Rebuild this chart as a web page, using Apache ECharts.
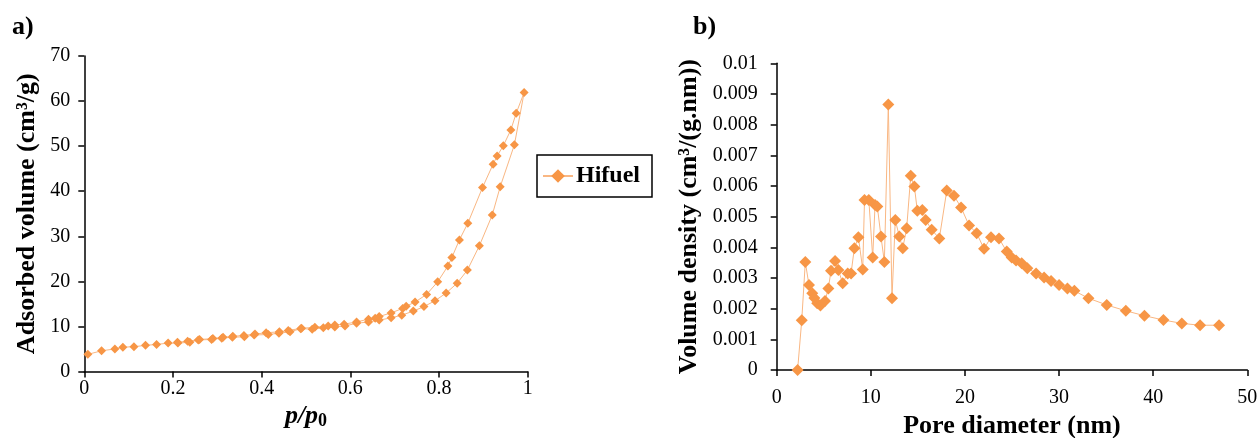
<!DOCTYPE html>
<html>
<head>
<meta charset="utf-8">
<script src="https://cdn.jsdelivr.net/npm/echarts@6/dist/echarts.min.js"></script>
<style>
  html, body { margin: 0; padding: 0; background: #fff; }
  #chart { width: 1259px; height: 438px; }
</style>
</head>
<body>
<div id="chart"></div>
<script>
// a) isotherm: adsorption branch (p/p0 rising) then desorption branch (falling)
const adsP = [0.008, 0.039, 0.069, 0.087, 0.112, 0.138, 0.163, 0.189, 0.211, 0.238, 0.257, 0.287, 0.310, 0.334, 0.361, 0.383, 0.415, 0.439, 0.464, 0.488, 0.514, 0.539, 0.565, 0.588, 0.614, 0.641, 0.665, 0.692, 0.716, 0.742, 0.766, 0.791, 0.816, 0.841, 0.864, 0.891, 0.920, 0.938, 0.970, 0.992]
const adsV = [3.8, 4.6, 5.0, 5.4, 5.5, 5.8, 6.0, 6.3, 6.3, 6.5, 7.0, 7.1, 7.4, 7.6, 7.7, 8.1, 8.2, 8.5, 8.8, 9.5, 9.4, 9.7, 9.9, 10.1, 10.7, 11.0, 11.4, 11.9, 12.5, 13.4, 14.4, 15.7, 17.4, 19.6, 22.5, 27.9, 34.7, 41.0, 50.3, 61.9]
const desP = [0.974, 0.962, 0.945, 0.931, 0.922, 0.898, 0.865, 0.846, 0.829, 0.820, 0.797, 0.772, 0.746, 0.726, 0.718, 0.692, 0.665, 0.656, 0.641, 0.614, 0.586, 0.565, 0.550, 0.520, 0.490, 0.460, 0.440, 0.410, 0.385, 0.360, 0.335, 0.313, 0.290, 0.260, 0.233, 0.210]
const desV = [57.3, 53.6, 50.1, 47.8, 46.0, 40.8, 32.9, 29.2, 25.3, 23.4, 19.9, 17.1, 15.4, 14.5, 14.0, 13.0, 12.2, 11.8, 11.6, 11.0, 10.5, 10.3, 10.1, 9.8, 9.6, 9.1, 8.8, 8.6, 8.3, 8.0, 7.8, 7.6, 7.3, 7.1, 6.7, 6.5]

// b) pore size distribution
const poreD = [2.22, 2.66, 3.04, 3.43, 3.78, 4.0, 4.3, 4.65, 5.13, 5.49, 5.77, 6.2, 6.55, 7.01, 7.54, 7.9, 8.25, 8.68, 9.14, 9.33, 9.79, 10.2, 10.45, 10.69, 11.08, 11.44, 11.86, 12.25, 12.6, 13.03, 13.39, 13.81, 14.24, 14.63, 14.94, 15.47, 15.83, 16.47, 17.28, 18.07, 18.84, 19.59, 20.44, 21.25, 22.03, 22.77, 23.62, 24.44, 24.97, 25.43, 26.03, 26.63, 27.56, 28.41, 29.15, 30.0, 30.89, 31.63, 33.12, 35.07, 37.09, 39.07, 41.09, 43.04, 44.98, 47.0]
const poreV = [0, 0.00162, 0.00352, 0.00277, 0.0025, 0.00235, 0.00218, 0.0021, 0.00225, 0.00266, 0.00324, 0.00355, 0.00326, 0.00283, 0.00315, 0.00315, 0.00397, 0.00433, 0.00328, 0.00554, 0.00554, 0.00367, 0.00538, 0.00533, 0.00435, 0.00352, 0.00866, 0.00234, 0.00489, 0.00435, 0.00397, 0.00462, 0.00633, 0.00598, 0.00519, 0.00522, 0.00489, 0.00457, 0.00429, 0.00585, 0.00568, 0.0053, 0.00471, 0.00446, 0.00395, 0.00433, 0.00429, 0.00386, 0.00367, 0.00357, 0.00348, 0.00332, 0.00315, 0.00302, 0.0029, 0.00277, 0.00266, 0.00258, 0.00234, 0.00212, 0.00193, 0.00177, 0.00163, 0.00152, 0.00146, 0.00146]

const serif = '"Liberation Serif", "Times New Roman", serif'
const markerColor = '#F79646'
const lineColor = '#F9B783'

const isoData = adsP.map((p, i) => [p, adsV[i]]).concat(desP.map((p, i) => [p, desV[i]]))
const poreData = poreD.map((d, i) => [d, poreV[i]])

const axisCommon = {
  axisLine: { lineStyle: { color: '#000', width: 1.5 } },
  axisTick: { show: true, inside: false, length: 6, lineStyle: { color: '#000', width: 1.5 } },
  splitLine: { show: false },
  axisLabel: { color: '#000', fontFamily: serif, fontSize: 20 },
  nameTextStyle: { color: '#000', fontFamily: serif, fontSize: 26, fontWeight: 'bold' }
}

const chart = echarts.init(document.getElementById('chart'), null, { renderer: 'canvas' })
chart.setOption({
  animation: false,
  backgroundColor: '#fff',
  graphic: [
    { type: 'text', left: 12, top: 14, style: { text: 'a)', font: 'bold 26px ' + serif, fill: '#000' } },
    { type: 'text', left: 693, top: 14, style: { text: 'b)', font: 'bold 26px ' + serif, fill: '#000' } }
  ],
  legend: {
    data: ['Hifuel'],
    left: 537,
    top: 155,
    orient: 'vertical',
    padding: [9, 12, 9, 5],
    itemWidth: 30,
    itemHeight: 17,
    itemGap: 0,
    borderColor: '#000',
    borderWidth: 1.5,
    textStyle: { color: '#000', fontFamily: serif, fontSize: 24, fontWeight: 'bold', padding: [0, 0, 0, -2] }
  },
  grid: [
    { left: 84.3, top: 56, width: 443.4, height: 315.5, outerBoundsMode: 'none' },
    { left: 776.7, top: 63.3, width: 470.6, height: 306.7, outerBoundsMode: 'none' }
  ],
  xAxis: [
    {
      ...axisCommon,
      gridIndex: 0, type: 'value', min: 0, max: 1, interval: 0.2,
      axisLabel: { ...axisCommon.axisLabel, margin: 7 },
      name: '{t|p/p}{s|0}',
      nameLocation: 'middle', nameGap: 24,
      nameTextStyle: {
        rich: {
          t: { fontFamily: serif, fontSize: 26, fontWeight: 'bold', fontStyle: 'italic', color: '#000' },
          s: { fontFamily: serif, fontSize: 18, fontWeight: 'bold', color: '#000', padding: [10, 0, 0, 0] }
        }
      }
    },
    {
      ...axisCommon,
      gridIndex: 1, type: 'value', min: 0, max: 50, interval: 10,
      axisLabel: { ...axisCommon.axisLabel, margin: 18 },
      name: 'Pore diameter (nm)',
      nameLocation: 'middle', nameGap: 42
    }
  ],
  yAxis: [
    {
      ...axisCommon,
      gridIndex: 0, type: 'value', min: 0, max: 70, interval: 10,
      axisLabel: { ...axisCommon.axisLabel, margin: 14 },
      name: 'Adsorbed volume (cm³/g)',
      nameLocation: 'middle', nameGap: 44
    },
    {
      ...axisCommon,
      gridIndex: 1, type: 'value', min: 0, max: 0.01, interval: 0.001,
      axisLabel: { ...axisCommon.axisLabel, margin: 19 },
      name: 'Volume density (cm³/(g.nm))',
      nameLocation: 'middle', nameGap: 74
    }
  ],
  series: [
    {
      name: 'Hifuel',
      type: 'line',
      xAxisIndex: 1, yAxisIndex: 1,
      data: poreData,
      symbol: 'diamond',
      symbolSize: 12,
      itemStyle: { color: markerColor },
      lineStyle: { color: lineColor, width: 1 }
    },
    {
      name: 'Hifuel',
      type: 'line',
      xAxisIndex: 0, yAxisIndex: 0,
      data: isoData,
      symbol: 'diamond',
      symbolSize: 9,
      itemStyle: { color: markerColor },
      lineStyle: { color: lineColor, width: 1 }
    }
  ]
})
</script>
</body>
</html>
